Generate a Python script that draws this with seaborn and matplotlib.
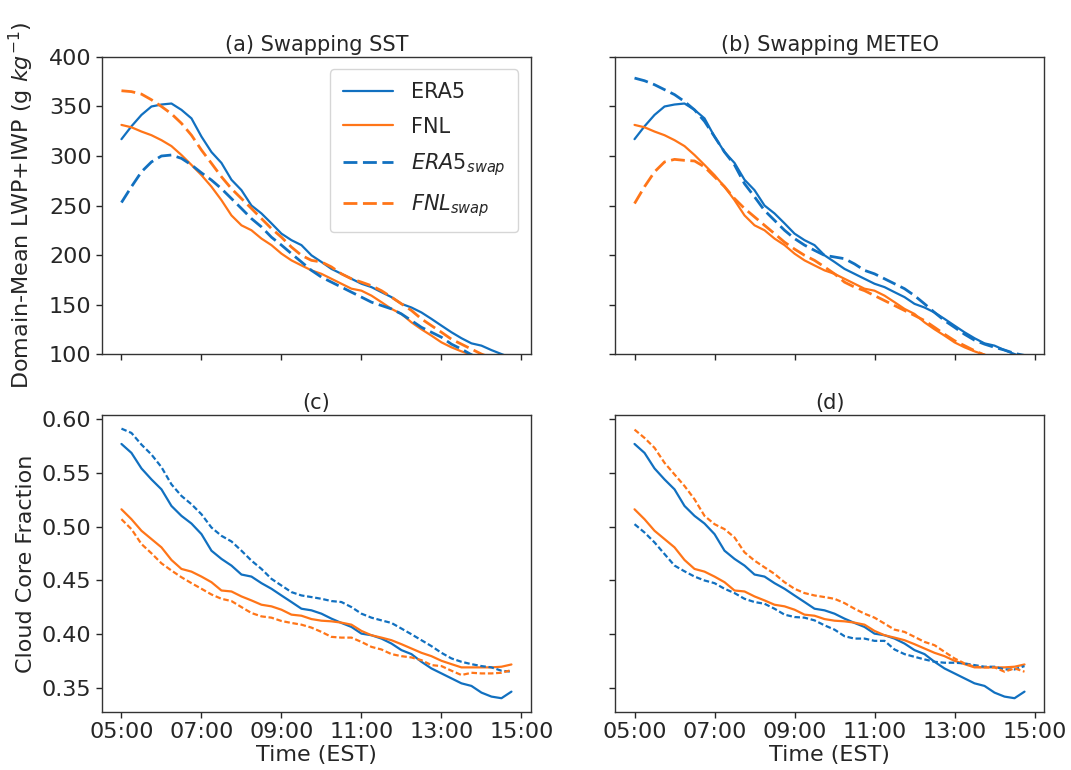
import numpy as np
import pandas as pd
import matplotlib
matplotlib.use("Agg")
import matplotlib.pyplot as plt
import seaborn as sns

# ---------------- data (15-min samples, 05:00 .. 14:45 EST) ----------------
hours = np.arange(5.0, 15.0, 0.25)

run_labels = ["ERA5", "FNL", "$ERA5_{swap}$", "$FNL_{swap}$"]

# Domain-mean LWP+IWP
lwp_era5 = [317, 330, 341.5, 350, 352, 353, 346.6, 338, 319.6, 304,
            293, 276, 265.5, 250, 242, 232, 221.6, 215, 210, 199.7,
            193, 186, 181, 176, 171, 167.6, 162.5, 157.5, 150.7, 147,
            142, 135.5, 128.7, 122, 116, 110.8, 108.5, 104, 100, 96]
lwp_fnl = [331.4, 329, 324.7, 321, 316, 310, 301, 291, 280.7, 269,
           255.4, 240, 230, 225, 216.6, 210, 201.4, 194.6, 189.5, 184.5,
           181, 176, 171, 166, 164, 159, 152.4, 145.6, 140.5, 132,
           125, 118.6, 111.8, 106.8, 102.7, 99.3, 95, 91, 88, 85]
lwp_era5swap_sst = [253, 269, 284, 294, 300, 301, 297.6, 291, 283, 275.7,
                    267, 257, 247, 236.8, 228.4, 218, 210, 201.4, 193, 184.5,
                    177.7, 172.6, 167.6, 162.5, 157.5, 152.4, 149, 145.6, 140.5, 133.8,
                    127, 122, 117, 110, 105, 99.3, 95, 91, 88, 85]
lwp_fnlswap_sst = [365.9, 365, 362.5, 356.8, 350, 342.6, 333, 321, 306, 292.6,
                   279, 267, 257, 247, 236.8, 226.7, 218, 208, 199.7, 194.6,
                   193, 188, 181, 176, 172.6, 169, 164, 157.5, 150.7, 144,
                   135.5, 128.7, 122, 115, 110, 105, 100, 96, 92, 88]
lwp_era5swap_met = [378.7, 376, 372, 367, 362, 355, 346.6, 335, 319.6, 304,
                    291, 272, 258.8, 245, 235, 225, 216.6, 210, 204.7, 199.7,
                    198, 196.3, 191, 184.5, 181, 176, 171, 166, 159, 150.7,
                    142, 133.8, 127, 120, 114, 110, 106.8, 104, 100.7, 98.6]
lwp_fnlswap_met = [252, 269, 284, 294, 296.6, 295.6, 295, 289, 279, 269,
                   257, 247, 238.5, 230, 221.6, 213, 206, 199.7, 194.6, 188,
                   181, 172.6, 167.6, 164, 159, 154, 149, 144, 139, 133.8,
                   127, 120, 113.5, 108.5, 103.4, 99, 96, 93, 90, 87]

# Cloud core fraction
ccf_era5 = [0.5766, 0.5683, 0.5539, 0.5437, 0.5345, 0.5191, 0.5099, 0.5028, 0.4930, 0.4776,
            0.4700, 0.4638, 0.4555, 0.4536, 0.4475, 0.4423, 0.4361, 0.4300, 0.4238, 0.4223,
            0.4192, 0.4146, 0.4106, 0.4069, 0.4007, 0.3992, 0.3961, 0.3915, 0.3854, 0.3817,
            0.3746, 0.3684, 0.3638, 0.3592, 0.3546, 0.3522, 0.3460, 0.3423, 0.3408, 0.3469]
ccf_fnl = [0.5160, 0.5068, 0.4961, 0.4884, 0.4807, 0.4690, 0.4607, 0.4582, 0.4536, 0.4484,
           0.4407, 0.4398, 0.4352, 0.4315, 0.4275, 0.4260, 0.4229, 0.4183, 0.4173, 0.4142,
           0.4127, 0.4121, 0.4109, 0.4090, 0.4032, 0.3992, 0.3970, 0.3946, 0.3909, 0.3869,
           0.3829, 0.3798, 0.3755, 0.3724, 0.3694, 0.3694, 0.3694, 0.3694, 0.3700, 0.3721]
ccf_era5swap_sst = [0.5908, 0.5868, 0.5760, 0.5668, 0.5551, 0.5391, 0.5284, 0.5207, 0.5114, 0.4991,
                    0.4914, 0.4862, 0.4776, 0.4684, 0.4607, 0.4515, 0.4453, 0.4392, 0.4361, 0.4346,
                    0.4330, 0.4309, 0.4300, 0.4253, 0.4192, 0.4155, 0.4130, 0.4106, 0.4054, 0.4001,
                    0.3946, 0.3891, 0.3829, 0.3777, 0.3746, 0.3724, 0.3706, 0.3694, 0.3663, 0.3654]
ccf_fnlswap_sst = [0.5068, 0.4976, 0.4838, 0.4752, 0.4659, 0.4592, 0.4530, 0.4475, 0.4423, 0.4370,
                   0.4330, 0.4309, 0.4253, 0.4198, 0.4167, 0.4155, 0.4124, 0.4106, 0.4090, 0.4063,
                   0.4023, 0.3977, 0.3970, 0.3970, 0.3930, 0.3884, 0.3860, 0.3817, 0.3798, 0.3786,
                   0.3761, 0.3715, 0.3706, 0.3663, 0.3623, 0.3644, 0.3638, 0.3638, 0.3644, 0.3669]
ccf_era5swap_met = [0.5022, 0.4945, 0.4853, 0.4745, 0.4638, 0.4585, 0.4536, 0.4500, 0.4475, 0.4423,
                    0.4383, 0.4330, 0.4300, 0.4284, 0.4238, 0.4183, 0.4161, 0.4155, 0.4130, 0.4084,
                    0.4044, 0.3983, 0.3961, 0.3961, 0.3940, 0.3940, 0.3860, 0.3817, 0.3792, 0.3768,
                    0.3746, 0.3737, 0.3737, 0.3731, 0.3715, 0.3700, 0.3700, 0.3675, 0.3675, 0.3706]
ccf_fnlswap_met = [0.5899, 0.5822, 0.5730, 0.5591, 0.5483, 0.5376, 0.5253, 0.5099, 0.5022, 0.4976,
                   0.4899, 0.4761, 0.4684, 0.4622, 0.4561, 0.4484, 0.4423, 0.4383, 0.4361, 0.4346,
                   0.4330, 0.4290, 0.4238, 0.4192, 0.4155, 0.4100, 0.4044, 0.4023, 0.3977, 0.3930,
                   0.3900, 0.3838, 0.3777, 0.3731, 0.3700, 0.3694, 0.3694, 0.3654, 0.3685, 0.3654]

xtick_pos = [5, 7, 9, 11, 13, 15]
xtick_labels = ["05:00", "07:00", "09:00", "11:00", "13:00", "15:00"]
titles = ["(a) Swapping SST", "(b) Swapping METEO", "(c)", "(d)"]

# ---------------- styling ----------------
sns.set_style("ticks")
plt.rcParams["font.family"] = ["DejaVu Sans"]
FS = 16
FS_TITLE = 15
FS_LEG = 15
BLUE = "#1170c0"
ORANGE = "#ff7518"
palette = {run_labels[0]: BLUE, run_labels[1]: ORANGE,
           run_labels[2]: BLUE, run_labels[3]: ORANGE}


def make_df(a, b, c, d):
    frames = []
    for lab, vals in zip(run_labels, [a, b, c, d]):
        frames.append(pd.DataFrame({"hour": hours, "value": vals, "run": lab}))
    return pd.concat(frames, ignore_index=True)


panels = [
    make_df(lwp_era5, lwp_fnl, lwp_era5swap_sst, lwp_fnlswap_sst),
    make_df(lwp_era5, lwp_fnl, lwp_era5swap_met, lwp_fnlswap_met),
    make_df(ccf_era5, ccf_fnl, ccf_era5swap_sst, ccf_fnlswap_sst),
    make_df(ccf_era5, ccf_fnl, ccf_era5swap_met, ccf_fnlswap_met),
]

fig, axes = plt.subplots(2, 2, figsize=(10.71, 7.70), dpi=100,
                         sharex=True, sharey="row")
fig.subplots_adjust(left=0.0952, right=0.9748, top=0.926, bottom=0.0753,
                    wspace=0.196, hspace=0.205)

for i, (ax, df) in enumerate(zip(axes.flat, panels)):
    top = i < 2
    dash = (5, 2) if top else (2.5, 1.2)
    dashes = {run_labels[0]: "", run_labels[1]: "",
              run_labels[2]: dash, run_labels[3]: dash}
    sns.lineplot(data=df, x="hour", y="value", hue="run", style="run",
                 hue_order=run_labels, style_order=run_labels,
                 palette=palette, dashes=dashes, linewidth=1.6,
                 legend=False, ax=ax)
    for ln in ax.lines:
        if top and ln.get_linestyle() != "-":
            ln.set_linewidth(2.0)
    ax.set_title(titles[i], fontsize=FS_TITLE, pad=4)
    ax.set_xlabel("")
    ax.set_ylabel("")
    ax.tick_params(labelsize=FS, length=4, width=1)
    for sp in ax.spines.values():
        sp.set_linewidth(1.0)
        sp.set_color("#333333")

axes[0, 0].set_ylim(100, 400)
axes[0, 0].set_yticks([100, 150, 200, 250, 300, 350, 400])
axes[1, 0].set_ylim(0.328, 0.6035)
axes[1, 0].set_yticks([0.35, 0.40, 0.45, 0.50, 0.55, 0.60])
axes[1, 0].set_yticklabels(["0.35", "0.40", "0.45", "0.50", "0.55", "0.60"])
axes[1, 0].set_xlim(4.5125, 15.2375)
axes[1, 0].set_xticks(xtick_pos)
axes[1, 0].set_xticklabels(xtick_labels)

axes[0, 0].set_ylabel("Domain-Mean LWP+IWP (g $kg^{-1}$)", fontsize=FS, labelpad=4)
axes[1, 0].set_ylabel("Cloud Core Fraction", fontsize=FS, labelpad=4)
axes[1, 0].set_xlabel("Time (EST)", fontsize=FS, labelpad=2)
axes[1, 1].set_xlabel("Time (EST)", fontsize=FS, labelpad=2)
fig.align_ylabels(axes[:, 0])

leg_lines = axes[0, 0].lines[:4]
axes[0, 0].legend(leg_lines, run_labels, loc="upper right", fontsize=FS_LEG,
                  handlelength=2.4, labelspacing=0.7, borderpad=0.6,
                  handletextpad=0.9, borderaxespad=0.6, frameon=True)

fig.savefig("out.png", dpi=100)
